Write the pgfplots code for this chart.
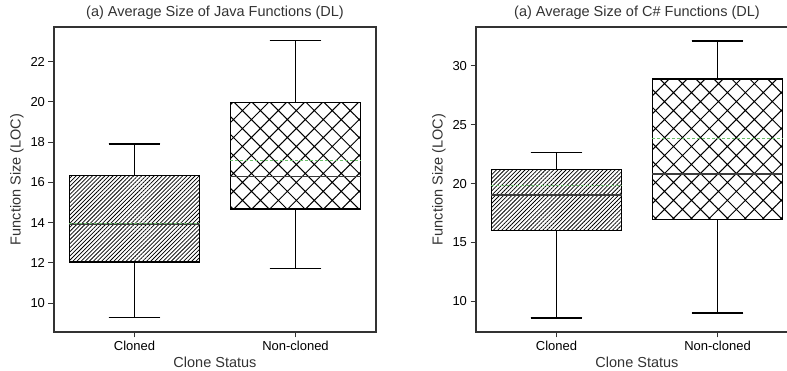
\documentclass[border=0pt]{standalone}
\usepackage{fontspec}
\setmainfont{Liberation Sans}
\usepackage{pgfplots}
\pgfplotsset{compat=1.18}
\usepgfplotslibrary{statistics}
\usetikzlibrary{patterns.meta}
\definecolor{axgray}{HTML}{333333}
\definecolor{medgray}{HTML}{3C3C3C}
\definecolor{meangreen}{HTML}{6DBF6D}
\pgfplotsset{
  mybox/.style={
    scale only axis, width=322pt, height=305pt,
    xmin=-0.5, xmax=1.5,
    xtick={0,1}, xticklabels={Cloned,Non-cloned},
    xtick pos=left, ytick pos=left, tick align=outside,
    major tick length=5.5pt,
    tick style={line width=1pt, color=axgray},
    axis line style={line width=1.1pt, color=axgray},
    /pgf/number format/assume math mode=true,
    tick label style={font=\fontsize{13}{13}\selectfont, text=black},
    label style={font=\fontsize{14.5}{15}\selectfont, text=axgray},
    title style={font=\fontsize{14.5}{15}\selectfont, text=axgray, at={(0.5,1)}, anchor=base, yshift=4.5pt},
    xlabel={Clone Status}, ylabel={Function Size (LOC)},
    boxplot/draw direction=y,
    boxplot/box extend=0.81,
    boxplot/whisker extend=0.32,
    boxplot/every box/.style={line width=1.4pt, draw=black},
    boxplot/every whisker/.style={black, line width=1.3pt},
    boxplot/every median/.style={draw=none},
  },
  meanline/.style={draw=meangreen, dash pattern=on 3pt off 2pt, line width=1pt, mark=none},
  medline/.style={draw=medgray, solid, line width=1.8pt, mark=none},
  diagbox/.style={draw=black, pattern={Lines[angle=45,distance=2.9pt,line width=0.75pt]}},
  crossbox/.style={draw=black, pattern={Hatch[angle=45,distance=12.7pt,line width=1pt]}},
}
\begin{document}
\begin{tikzpicture}
\begin{axis}[mybox, at={(54pt,39pt)}, anchor=south west,
  ymin=8.57, ymax=23.72, ytick={10,12,14,16,18,20,22},
  title={(a) Average Size of Java Functions (DL)}]
\addplot[diagbox,
  boxplot prepared={draw position=0,
  lower whisker=9.29, lower quartile=12.04, median=13.95,
  upper quartile=16.34, upper whisker=17.91}] coordinates {};
\addplot[crossbox,
  boxplot prepared={draw position=1,
  lower whisker=11.73, lower quartile=14.67, median=16.29,
  upper quartile=19.98, upper whisker=23.04}] coordinates {};
\addplot[medline] coordinates {(-0.405,13.95) (0.405,13.95)};
\addplot[medline] coordinates {(0.595,16.29) (1.405,16.29)};
\addplot[meanline] coordinates {(-0.405,13.95) (0.405,13.95)};
\addplot[meanline] coordinates {(0.595,17.10) (1.405,17.10)};
\end{axis}
\begin{axis}[mybox, at={(476pt,39pt)}, anchor=south west,
  ymin=7.39, ymax=33.31, ytick={10,15,20,25,30},
  title={(a) Average Size of C\# Functions (DL)}]
\addplot[diagbox,
  boxplot prepared={draw position=0,
  lower whisker=8.58, lower quartile=16.03, median=19.06,
  upper quartile=21.19, upper whisker=22.63}] coordinates {};
\addplot[crossbox,
  boxplot prepared={draw position=1,
  lower whisker=9.0, lower quartile=16.94, median=20.79,
  upper quartile=28.89, upper whisker=32.12}] coordinates {};
\addplot[medline] coordinates {(-0.405,19.06) (0.405,19.06)};
\addplot[medline] coordinates {(0.595,20.79) (1.405,20.79)};
\addplot[meanline] coordinates {(-0.405,19.83) (0.405,19.83)};
\addplot[meanline] coordinates {(0.595,23.82) (1.405,23.82)};
\end{axis}
\pgfresetboundingbox
\useasboundingbox (0pt,0pt) rectangle (787pt,371pt);
\end{tikzpicture}
\end{document}
